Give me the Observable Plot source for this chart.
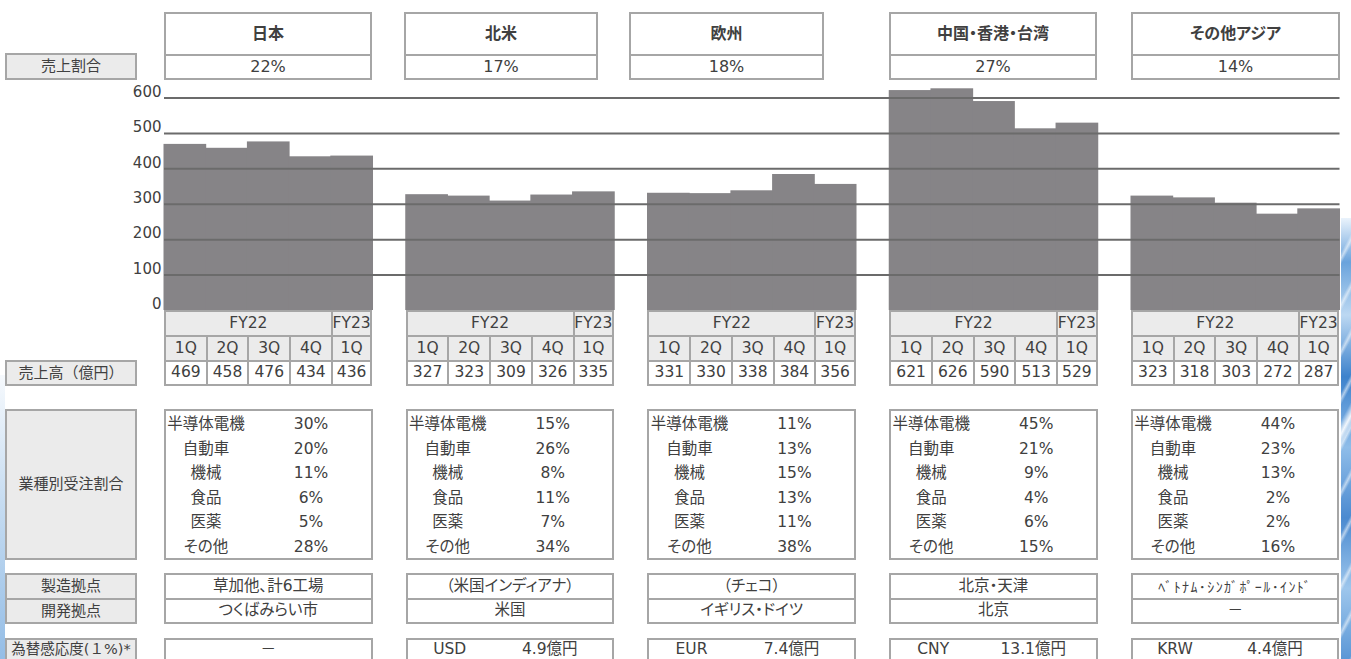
<!DOCTYPE html>
<html>
<head>
<meta charset="utf-8">
<script src="https://cdn.jsdelivr.net/npm/d3@7"></script>
<script src="https://cdn.jsdelivr.net/npm/@observablehq/plot@0.6"></script>
<style>
html, body { margin: 0; padding: 0; background: #fff; }
#page { position: relative; width: 1351px; height: 659px; overflow: hidden;
  font-family: "DejaVu Sans", "Noto Sans CJK JP", sans-serif; color: #404040;
  font-feature-settings: "palt"; }
.box { position: absolute; box-sizing: border-box; border: 2px solid #a6a6a6;
  display: flex; align-items: center; justify-content: center; white-space: nowrap;
  font-size: 15.5px; line-height: 1; background: #fff; }
.txt { position: absolute; white-space: nowrap; font-size: 15.5px; line-height: 20px; height: 20px; text-align: center; }
.nopalt { font-feature-settings: normal; }
#chart, #grid { position: absolute; left: 0; top: 80px; }
#deco-right { position: absolute; left: 1341px; top: 218px; width: 10px; height: 441px;
  background:
    linear-gradient(118deg, rgba(255,255,255,0) 0%, rgba(255,255,255,0) 44%, rgba(255,255,255,0.9) 47%, rgba(255,255,255,0) 50%, rgba(255,255,255,0) 100%),
    repeating-linear-gradient(118deg, rgba(255,255,255,0) 0px, rgba(255,255,255,0) 16px, rgba(255,255,255,0.55) 19px, rgba(255,255,255,0) 22px),
    linear-gradient(to bottom, rgba(220,235,250,0.6) 0%, #6aa3dc 10%, #bcd8f2 22%, #3d82cc 36%, #8fbde9 52%, #4b8ad0 68%, #9dc6ec 84%, #5b97d6 100%); }
#deco-left { position: absolute; left: 0; top: 375px; width: 5px; height: 284px;
  background: linear-gradient(to bottom, rgba(225,236,248,0.3) 0%, #c6dcf1 45%, #94bde6 100%); }
</style>
</head>
<body>
<div id="page">
  <div id="chart"></div>
  <div id="grid"></div>
  <div id="deco-left"></div>
  <div id="deco-right"></div>
</div>
<script>
// ---------- data ----------
const regions = ["日本", "北米", "欧州", "中国・香港・台湾", "その他アジア"];
const salesShare = ["22%", "17%", "18%", "27%", "14%"];
const fiscalYears = ["FY22", "FY22", "FY22", "FY22", "FY23"];
const quarters = ["1Q", "2Q", "3Q", "4Q", "1Q"];
const salesJapan = [469, 458, 476, 434, 436];
const salesNorthAmerica = [327, 323, 309, 326, 335];
const salesEurope = [331, 330, 338, 384, 356];
const salesChina = [621, 626, 590, 513, 529];
const salesOtherAsia = [323, 318, 303, 272, 287];
const yTicks = [0, 100, 200, 300, 400, 500, 600];
const gridTicks = [100, 200, 300, 400, 500, 600];
const industries = ["半導体電機", "自動車", "機械", "食品", "医薬", "その他"];
const industryJapan = ["30%", "20%", "11%", "6%", "5%", "28%"];
const industryNorthAmerica = ["15%", "26%", "8%", "11%", "7%", "34%"];
const industryEurope = ["11%", "13%", "15%", "13%", "11%", "38%"];
const industryChina = ["45%", "21%", "9%", "4%", "6%", "15%"];
const industryOtherAsia = ["44%", "23%", "13%", "2%", "2%", "16%"];
const manufacturingSites = ["草加他、計6工場", "（米国インディアナ）", "（チェコ）", "北京・天津", "ﾍﾞﾄﾅﾑ･ｼﾝｶﾞﾎﾟｰﾙ･ｲﾝﾄﾞ"];
const developmentSites = ["つくばみらい市", "米国", "イギリス・ドイツ", "北京", "－"];
const fxCurrencies = ["－", "USD", "EUR", "CNY", "KRW"];
const fxImpacts = ["", "4.9億円", "7.4億円", "13.1億円", "4.4億円"];
const rowLabels = ["売上割合", "売上高（億円）", "業種別受注割合", "製造拠点", "開発拠点", "為替感応度(１%)*"];

const salesByRegion = [salesJapan, salesNorthAmerica, salesEurope, salesChina, salesOtherAsia];
const industryByRegion = [industryJapan, industryNorthAmerica, industryEurope, industryChina, industryOtherAsia];
const periods = fiscalYears.map((fy, j) => fy + " " + quarters[j]);

// ---------- bar chart (Plot) ----------
const barRows = [];
regions.forEach((r, i) => salesByRegion[i].forEach((v, j) => barRows.push({region: r, period: periods[j], sales: v})));

const plotLeft = 164, plotRight = 1339.5, gapRatio = 0.1375;
const common = {
  width: 1351,
  height: 230,
  marginTop: 17.5,
  marginBottom: 0,
  marginLeft: plotLeft,
  marginRight: 1351 - plotRight,
  style: {background: "transparent", overflow: "visible", fontSize: "15px",
    fontFamily: "'DejaVu Sans', 'Noto Sans CJK JP', sans-serif", color: "#404040"}
};
const chart = Plot.plot({
  ...common,
  fx: {domain: regions, paddingInner: gapRatio, paddingOuter: 0, round: false, axis: null, label: null},
  x: {domain: periods, padding: 0, round: false, axis: null},
  y: {domain: [0, 600], axis: null},
  marks: [
    Plot.barY(barRows, {fx: "region", x: "period", y: "sales", fill: "#868487", insetLeft: -0.5, insetRight: -0.5})
  ]
});
document.getElementById("chart").appendChild(chart);

// gridlines and y axis across all regions (same y scale)
const grid = Plot.plot({
  ...common,
  y: {domain: [0, 600], axis: null},
  marks: [
    Plot.ruleY(gridTicks, {stroke: "#6b6b6b", strokeWidth: 2}),
    Plot.axisY(yTicks, {tickSize: 0, tickPadding: 3, dy: -6, fontSize: 15, label: null, fill: "#404040"})
  ]
});
document.getElementById("grid").appendChild(grid);

// ---------- table layout ----------
const page = document.getElementById("page");
function box(x, y, w, h, text, opts = {}) {
  const d = document.createElement("div");
  d.className = "box" + (opts.nopalt ? " nopalt" : "");
  Object.assign(d.style, {left: x + "px", top: y + "px", width: w + "px", height: h + "px"});
  if (opts.fill) d.style.background = opts.fill;
  if (opts.bold) d.style.fontWeight = "bold";
  if (opts.size) d.style.fontSize = opts.size + "px";
  if (opts.spacing) d.style.letterSpacing = opts.spacing + "px";
  if (opts.openBottom) d.style.borderBottom = "none";
  if (text !== undefined) d.textContent = text;
  page.appendChild(d);
  return d;
}
function txt(cx, cy, text, w = 90) {
  const d = document.createElement("div");
  d.className = "txt";
  Object.assign(d.style, {left: (cx - w / 2) + "px", top: (cy - 10) + "px", width: w + "px"});
  d.textContent = text;
  page.appendChild(d);
}
const gray = "#ebebeb";

// left row labels
box(5, 53, 132, 27, rowLabels[0], {fill: gray, size: 15});
box(5, 360, 132, 26, rowLabels[1], {fill: gray, size: 15, nopalt: true});
box(5, 409, 132, 151, rowLabels[2], {fill: gray, size: 15});
box(5, 573, 132, 27, rowLabels[3], {fill: gray, size: 15});
box(5, 598, 132, 26, rowLabels[4], {fill: gray, size: 15});
box(5, 638, 132, 21, rowLabels[5], {fill: gray, size: 14.5, nopalt: true, openBottom: true});

// header boxes
const headerX = [164, 404, 629, 889, 1131];
const headerW = [208, 194, 195, 208, 209];
regions.forEach((r, i) => {
  box(headerX[i], 12, headerW[i], 44, r, {bold: true, size: 16});
  box(headerX[i], 54, headerW[i], 26, salesShare[i], {size: 16});
});

// per-region tables
const step = (plotRight - plotLeft) / (regions.length - gapRatio);
const colW = step * (1 - gapRatio);
const cw = colW / quarters.length;
regions.forEach((r, i) => {
  const x0 = plotLeft + i * step;
  box(x0, 310, cw * 4 + 2, 27, "FY22", {fill: gray});
  box(x0 + cw * 4, 310, cw, 27, "FY23", {fill: gray});
  quarters.forEach((q, j) => {
    const w = j < quarters.length - 1 ? cw + 2 : cw;
    box(x0 + j * cw, 335, w, 27, q, {fill: gray});
    box(x0 + j * cw, 360, w, 26, String(salesByRegion[i][j]));
  });
  box(x0, 409, colW, 151);
  industries.forEach((ind, k) => {
    const cy = 424 + k * 24.6;
    txt(x0 + 42, cy, ind, 84);
    txt(x0 + 147, cy, industryByRegion[i][k], 70);
  });
  const isHalf = i === 4;
  box(x0, 573, colW, 27, manufacturingSites[i], isHalf ? {size: 14, spacing: 1.4} : {});
  box(x0, 598, colW, 26, developmentSites[i]);
  box(x0, 638, colW, 21, fxImpacts[i] ? "" : fxCurrencies[i], {openBottom: true});
  if (fxImpacts[i]) {
    txt(x0 + 44, 649, fxCurrencies[i], 70);
    txt(x0 + 144, 649, fxImpacts[i], 90);
  }
});
</script>
</body>
</html>
